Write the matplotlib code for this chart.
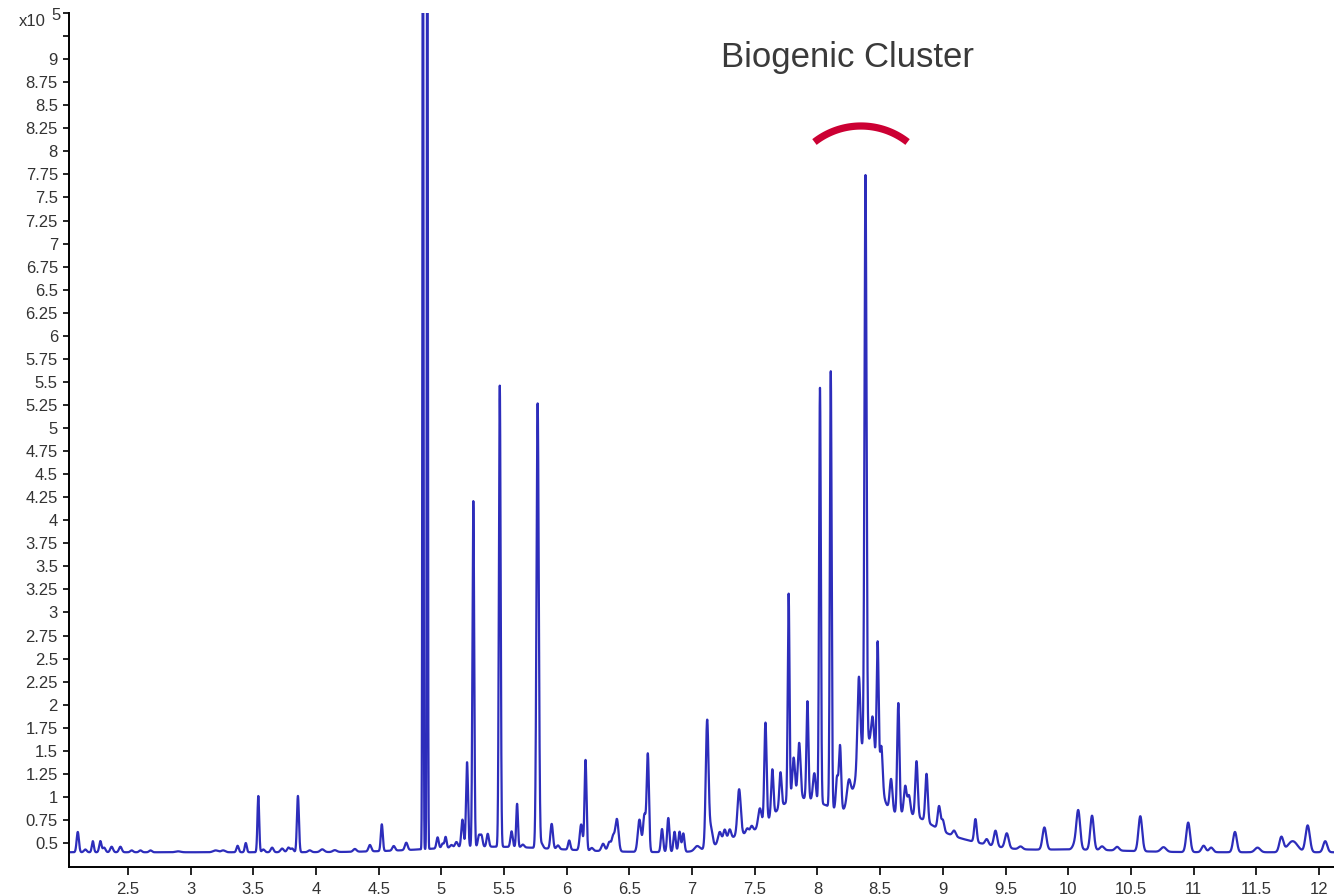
import numpy as np
import matplotlib
matplotlib.use("Agg")
import matplotlib.pyplot as plt
from matplotlib.lines import Line2D

# Retention time (min), peak height above baseline (x10^5 counts), peak sigma (min)
peak_rt = [
    2.10, 2.16, 2.22, 2.28, 2.31, 2.37, 2.44, 2.53, 2.60, 2.68, 2.90, 3.20, 3.26,
    3.375, 3.44, 3.54, 3.58, 3.65, 3.73, 3.78, 3.81, 3.856, 3.95, 4.05, 4.15, 4.31,
    4.43, 4.525, 4.62, 4.72, 4.853, 4.888,
    4.97, 5.01, 5.034, 5.08, 5.12, 5.168, 5.205, 5.255, 5.30, 5.32, 5.37, 5.466,
    5.56, 5.604, 5.65, 5.768, 5.80, 5.88, 5.93, 6.02, 6.115, 6.15, 6.20, 6.29,
    6.34, 6.37, 6.40, 6.58, 6.62, 6.647, 6.76, 6.81, 6.86, 6.90, 6.93, 7.04,
    7.12, 7.15, 7.22, 7.26, 7.30, 7.375, 7.44, 7.475, 7.54, 7.585, 7.64, 7.705,
    7.77, 7.81, 7.854, 7.92, 7.975, 8.02, 8.106, 8.156, 8.18, 8.25, 8.33, 8.383,
    8.44, 8.48, 8.51, 8.587, 8.645, 8.70, 8.73, 8.79, 8.87, 8.97, 9.00, 9.09,
    9.26, 9.35, 9.42, 9.51, 9.62, 9.81, 10.05, 10.08, 10.19, 10.27, 10.39,
    10.575, 10.76, 10.957, 11.08, 11.14, 11.33, 11.51, 11.70, 11.79, 11.91, 12.05,
]
peak_height = [
    0.22, 0.03, 0.12, 0.12, 0.05, 0.06, 0.06, 0.02, 0.02, 0.02, 0.01, 0.02, 0.02,
    0.07, 0.10, 0.61, 0.03, 0.05, 0.04, 0.05, 0.04, 0.61, 0.02, 0.03, 0.02, 0.03,
    0.07, 0.29, 0.05, 0.08, 12.0, 12.0,
    0.12, 0.05, 0.12, 0.03, 0.06, 0.30, 0.92, 3.75, 0.12, 0.12, 0.14, 5.00,
    0.17, 0.47, 0.03, 4.82, 0.05, 0.27, 0.04, 0.10, 0.28, 0.98, 0.03, 0.08,
    0.10, 0.15, 0.35, 0.35, 0.40, 1.05, 0.25, 0.37, 0.22, 0.22, 0.20, 0.05,
    1.38, 0.20, 0.12, 0.12, 0.10, 0.50, 0.05, 0.06, 0.20, 1.08, 0.50, 0.38,
    2.25, 0.45, 0.60, 1.06, 0.30, 4.50, 4.73, 0.35, 0.70, 0.25, 0.95, 6.14,
    0.35, 1.40, 0.45, 0.35, 1.20, 0.30, 0.20, 0.60, 0.52, 0.25, 0.12, 0.06,
    0.25, 0.06, 0.17, 0.16, 0.03, 0.24, 0.05, 0.42, 0.37, 0.04, 0.04,
    0.38, 0.05, 0.32, 0.07, 0.05, 0.22, 0.05, 0.16, 0.12, 0.29, 0.12,
]
peak_sigma = [
    0.009, 0.011, 0.008, 0.009, 0.011, 0.011, 0.011, 0.011, 0.011, 0.011, 0.020, 0.020, 0.016,
    0.009, 0.008, 0.007, 0.011, 0.011, 0.013, 0.011, 0.011, 0.008, 0.013, 0.016, 0.016, 0.013,
    0.011, 0.008, 0.011, 0.011, 0.004, 0.004,
    0.009, 0.009, 0.008, 0.011, 0.011, 0.009, 0.008, 0.007, 0.009, 0.009, 0.009, 0.007,
    0.009, 0.007, 0.011, 0.009, 0.011, 0.010, 0.011, 0.009, 0.011, 0.008, 0.011, 0.013,
    0.013, 0.011, 0.013, 0.013, 0.011, 0.009, 0.009, 0.009, 0.009, 0.009, 0.009, 0.020,
    0.011, 0.013, 0.013, 0.011, 0.011, 0.013, 0.011, 0.011, 0.013, 0.009, 0.009, 0.009,
    0.007, 0.011, 0.011, 0.008, 0.011, 0.007, 0.007, 0.009, 0.009, 0.015, 0.011, 0.008,
    0.011, 0.008, 0.010, 0.011, 0.009, 0.011, 0.011, 0.010, 0.010, 0.011, 0.011, 0.013,
    0.010, 0.013, 0.013, 0.015, 0.016, 0.015, 0.016, 0.015, 0.014, 0.016, 0.016,
    0.015, 0.021, 0.015, 0.016, 0.016, 0.015, 0.021, 0.016, 0.040, 0.017, 0.016,
]

# Unresolved background (broad humps) on top of a flat baseline
baseline_level = 0.40
hump_rt = [5.40, 7.35, 7.75, 8.00, 8.40, 8.70, 9.10, 10.0]
hump_height = [0.06, 0.12, 0.18, 0.50, 0.90, 0.35, 0.12, 0.03]
hump_sigma = [0.50, 0.15, 0.15, 0.30, 0.08, 0.20, 0.25, 0.40]

x_ticks = [2.5, 3, 3.5, 4, 4.5, 5, 5.5, 6, 6.5, 7, 7.5, 8, 8.5, 9, 9.5,
           10, 10.5, 11, 11.5, 12]
y_ticks = list(np.arange(0.5, 9.51, 0.25))

W, H = 1334, 896
fig = plt.figure(figsize=(W / 100, H / 100), dpi=100)
ax = fig.add_axes([69 / W, 1 - 867 / H, 1 - 69 / W, (867 - 13) / H])

t = np.linspace(2.0, 12.2, 40000)
signal = np.full_like(t, baseline_level)
for c, h, s in zip(hump_rt + peak_rt, hump_height + peak_height,
                   hump_sigma + peak_sigma):
    signal += h * np.exp(-0.5 * ((t - c) / s) ** 2)

ax.plot(t, signal, color="#2d2dbb", lw=1.6, solid_joinstyle="round")

ax.set_xlim(2.03, 12.12)
ax.set_ylim(0.24, 9.5)

ax.set_xticks(x_ticks)
ax.set_xticklabels([f"{v:g}" for v in x_ticks])
ax.set_yticks(y_ticks)
ax.set_yticklabels([f"{v:g}" if v <= 9 else "" for v in y_ticks])

for side in ("top", "right"):
    ax.spines[side].set_visible(False)
for side in ("left", "bottom"):
    ax.spines[side].set_color("black")
    ax.spines[side].set_linewidth(1.4)

ax.tick_params(axis="y", length=4, width=1.2, pad=4, labelsize=12,
               labelcolor="#333333")
ax.tick_params(axis="x", length=5.5, width=1.2, pad=5, labelsize=12,
               labelcolor="#333333")
for lab in ax.get_xticklabels() + ax.get_yticklabels():
    lab.set_family("Liberation Sans")

# Scale factor label at the top of the y axis
fig.text(46 / W, 1 - 21 / H, "x10", ha="right", va="center", fontsize=12,
         family="Liberation Sans", color="#333333")
fig.text(51 / W, 1 - 16 / H, "5", ha="left", va="center", fontsize=12,
         family="Liberation Sans", color="#333333")

# Annotation for the biogenic cluster
fig.text(721 / W, 1 - 67 / H, "Biogenic Cluster", ha="left", va="baseline",
         fontsize=25, family="Liberation Sans", color="#3a3a3a")

# Red bracket arc above the cluster (pixel geometry converted to figure fraction)
r, cx, cy = 75.6, 861.0, 126.0 + 75.6
theta = np.radians(np.linspace(52, 128, 60))
arc_x = (cx + r * np.cos(theta)) / W
arc_y = 1 - (cy - r * np.sin(theta)) / H
fig.add_artist(Line2D(arc_x, arc_y, transform=fig.transFigure,
                      color="#cc0033", lw=5.2, solid_capstyle="butt"))

fig.savefig("out.png", dpi=100, facecolor="white")
